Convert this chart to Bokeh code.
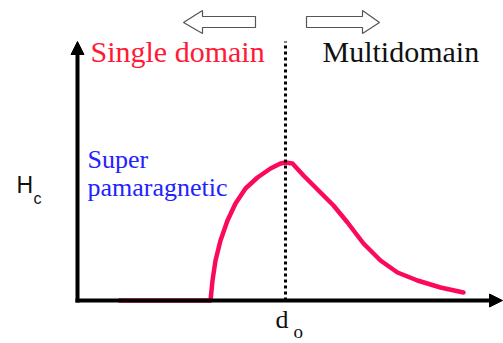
from bokeh.plotting import figure
from bokeh.models import Range1d, Arrow, NormalHead
from bokeh.core.properties import value
from bokeh.embed import file_html
from bokeh.resources import INLINE

# Data (arbitrary units: d = particle size, Hc = coercivity)
flat_d = [41, 133]
flat_hc = [0, 0]
curve_d = [133, 135, 138, 143, 150, 158, 168, 180, 193, 203, 208,
           215, 226, 236, 246, 256, 270, 286, 303, 320, 340, 363, 386]
curve_hc = [0, 20, 40, 60, 80, 97, 112, 123, 132, 137, 138,
            137, 125, 115, 105, 95, 78, 57, 40, 28, 20, 13, 8]
d0 = 208
axis_top = 259
axis_right = 425

# Hollow direction arrows (outline shapes)
left_arrow_x = [106, 125, 125, 178, 178, 125, 125]
left_arrow_y = [278, 290, 284, 284, 273, 273, 267]
right_arrow_x = [229, 285, 285, 302, 285, 285, 229]
right_arrow_y = [284, 284, 290, 278, 267, 273, 273]

p = figure(width=503, height=343, x_range=Range1d(-77, 426), y_range=Range1d(-43, 300),
           output_backend="svg", toolbar_location=None, min_border=0)
p.axis.visible = False
p.grid.visible = False
p.outline_line_color = None

curve_color = "#fb0a5c"
p.line(flat_d, flat_hc, line_width=4.5, line_color=curve_color)
p.line(curve_d, curve_hc, line_width=4.5, line_color=curve_color,
       line_join="round", line_cap="round")

# dotted d0 line
p.line([d0, d0], [0, axis_top], line_width=3, line_color="black", line_dash="3 3")

# axes
p.add_layout(Arrow(end=NormalHead(size=13, fill_color="black", line_color="black"),
                   x_start=0, y_start=-2, x_end=0, y_end=axis_top, line_width=4, line_color="black"))
p.add_layout(Arrow(end=NormalHead(size=13, fill_color="black", line_color="black"),
                   x_start=-2, y_start=0, x_end=axis_right, y_end=0, line_width=4, line_color="black"))

p.patch(left_arrow_x, left_arrow_y, fill_color="white", line_color="#555555", line_width=1.2)
p.patch(right_arrow_x, right_arrow_y, fill_color="white", line_color="#555555", line_width=1.2)

serif = value("Liberation Serif")
sans = value("Liberation Sans")

p.text(x=[13], y=[233], text=["Single domain"], text_font=serif, text_font_size="30px",
       text_color="#ff1a35")
p.text(x=[245], y=[233], text=["Multidomain"], text_font=serif, text_font_size="30px",
       text_color="#111111")
p.text(x=[10], y=[127], text=["Super"], text_font=serif, text_font_size="26px",
       text_color="#2222ff")
p.text(x=[10], y=[99], text=["pamaragnetic"], text_font=serif, text_font_size="26px",
       text_color="#2222ff")

p.text(x=[-61], y=[103], text=["H"], text_font=sans, text_font_size="23px",
       text_color="#111111")
p.text(x=[-44], y=[94], text=["c"], text_font=sans, text_font_size="16px",
       text_color="#111111")
p.text(x=[198], y=[-33], text=["d"], text_font=serif, text_font_size="26px",
       text_color="#111111")
p.text(x=[216], y=[-41], text=["o"], text_font=serif, text_font_size="19px",
       text_color="#111111")

open("out.html", "w").write(file_html(p, INLINE))
